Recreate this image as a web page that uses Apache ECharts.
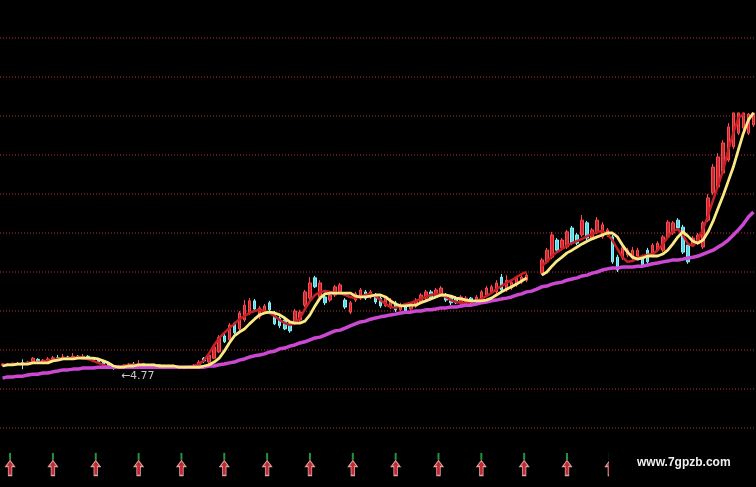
<!DOCTYPE html>
<html><head><meta charset="utf-8">
<script src="https://cdn.jsdelivr.net/npm/echarts@6/dist/echarts.min.js"></script>
<style>html,body{margin:0;padding:0;background:#000;}#c{width:756px;height:487px;}</style>
</head><body><div id="c"></div>
<script>
// ---- data (price units) ----
const opens = [
4.60,4.64,4.62,4.66,4.68,4.64,4.70,4.76,4.70,4.72,
4.76,4.80,4.77,4.82,4.79,4.84,4.80,4.84,4.79,4.74,
4.69,4.64,4.58,4.55,4.58,4.61,4.64,4.62,4.65,4.62,
4.60,4.62,4.59,4.58,4.60,4.57,4.56,4.55,4.58,4.62,
4.79,4.69,4.79,4.95,5.36,5.26,5.69,5.54,5.77,5.95,
6.26,5.85,5.97,6.21,5.95,5.82,5.77,5.69,5.69,5.77,
6.15,6.33,6.85,6.36,6.36,6.28,6.41,6.49,6.28,5.97,
6.28,6.33,6.49,6.36,6.41,6.33,6.13,6.10,6.21,6.03,
6.15,6.05,6.13,6.23,6.33,6.49,6.38,6.41,6.41,6.36,
6.33,6.21,6.23,6.33,6.23,6.33,6.41,6.49,6.49,6.87,
6.54,6.59,6.67,6.74,6.79,null,null,6.97,7.26,7.38,
7.82,7.62,7.64,8.13,7.95,7.95,8.26,7.87,8.03,7.90,
7.95,7.90,7.38,7.36,7.44,7.36,7.41,7.38,7.56,7.44,
7.56,7.56,7.90,8.00,8.33,8.15,7.69,7.69,7.74,7.64,
8.33,9.03,9.18,9.54,9.87,10.21,10.56,10.69,10.56,10.77];
const closes = [
4.64,4.61,4.66,4.64,4.66,4.69,4.79,4.72,4.74,4.77,
4.80,4.77,4.82,4.79,4.84,4.80,4.84,4.79,4.74,4.69,
4.64,4.59,4.55,4.58,4.61,4.64,4.62,4.65,4.62,4.60,
4.62,4.59,4.58,4.60,4.57,4.56,4.55,4.58,4.61,4.69,
4.72,4.87,5.08,5.33,5.21,5.64,5.44,5.95,6.15,6.26,
6.05,6.08,6.13,6.03,5.67,5.62,5.54,5.49,6.00,5.97,
6.49,6.72,6.62,6.72,6.21,6.41,6.62,6.67,6.10,6.21,
6.44,6.54,6.33,6.49,6.23,6.13,6.33,6.28,6.03,6.15,
6.00,6.18,6.28,6.41,6.49,6.33,6.54,6.59,6.28,6.21,
6.21,6.36,6.33,6.21,6.36,6.49,6.59,6.62,6.72,6.54,
6.79,6.74,6.85,6.87,6.92,null,null,7.31,7.56,7.95,
7.56,7.82,8.03,7.74,7.74,8.33,7.87,8.08,8.33,8.21,
8.08,7.26,7.05,7.62,7.56,7.56,7.56,7.18,7.26,7.69,
7.74,7.90,8.28,8.26,8.13,7.51,7.26,7.87,7.95,8.26,
8.90,9.69,9.95,10.31,10.72,11.08,11.08,11.08,11.05,11.08];
const lows = [
4.58,4.59,4.60,4.62,4.51,4.62,4.67,4.69,4.67,4.69,
4.72,4.74,4.74,4.77,4.77,4.77,4.79,4.74,4.69,4.64,
4.59,4.51,4.49,4.51,4.54,4.59,4.59,4.60,4.59,4.56,
4.57,4.56,4.51,4.55,4.54,4.51,4.52,4.53,4.55,4.56,
4.67,4.64,4.77,4.92,5.18,5.23,5.41,5.49,5.72,5.90,
6.00,5.79,5.92,6.00,5.64,5.56,5.51,5.44,5.64,5.72,
6.10,6.28,6.59,6.31,6.15,6.23,6.36,6.44,6.05,5.92,
6.23,6.28,6.28,6.31,6.18,6.08,6.10,6.05,5.97,6.00,
5.95,6.00,6.08,6.18,6.28,6.28,6.33,6.36,6.23,6.15,
6.18,6.15,6.18,6.15,6.18,6.28,6.36,6.44,6.44,6.49,
6.49,6.54,6.62,6.69,6.74,null,null,6.92,7.21,7.33,
7.51,7.56,7.59,7.69,7.69,7.90,7.82,7.82,7.97,7.85,
7.90,7.21,7.00,7.31,7.38,7.31,7.36,7.13,7.21,7.38,
7.51,7.51,7.85,7.95,8.08,7.46,7.21,7.64,7.69,7.59,
8.28,8.97,9.13,9.49,9.82,10.15,10.51,10.64,10.51,10.72];
const highs = [
4.66,4.66,4.68,4.69,4.76,4.72,4.82,4.79,4.77,4.82,
4.85,4.87,4.90,4.85,4.92,4.87,4.90,4.87,4.82,4.77,
4.72,4.67,4.61,4.62,4.64,4.67,4.69,4.74,4.67,4.64,
4.65,4.64,4.62,4.62,4.62,4.59,4.58,4.60,4.64,4.74,
4.82,4.92,5.13,5.38,5.41,5.69,5.72,6.00,6.28,6.33,
6.31,6.13,6.18,6.26,6.00,5.87,5.82,5.72,6.05,6.03,
6.54,6.87,6.90,6.79,6.41,6.46,6.67,6.72,6.33,6.26,
6.49,6.59,6.54,6.54,6.46,6.38,6.38,6.33,6.26,6.21,
6.18,6.23,6.33,6.46,6.54,6.54,6.59,6.64,6.46,6.41,
6.38,6.41,6.38,6.36,6.41,6.54,6.64,6.67,6.79,6.95,
6.92,6.79,6.90,6.92,6.97,null,null,7.36,7.62,8.03,
7.87,7.87,8.08,8.18,8.00,8.46,8.31,8.13,8.41,8.28,
8.13,7.95,7.44,7.67,7.62,7.64,7.62,7.44,7.62,7.74,
7.79,7.95,8.33,8.31,8.38,8.21,7.74,7.92,8.00,8.31,
9.00,9.77,10.05,10.38,10.82,11.08,11.08,11.08,11.08,11.08];
const maShort = [
4.62,4.62,4.64,4.64,4.64,4.67,4.67,4.69,4.69,4.72,
4.74,4.77,4.79,4.79,4.79,4.82,4.79,4.77,4.72,4.67,
4.62,4.56,4.54,4.56,4.59,4.62,4.62,4.62,4.62,4.59,
4.59,4.59,4.56,4.56,4.56,4.56,4.54,4.56,4.59,4.64,
4.74,4.92,5.13,5.31,5.44,5.56,5.67,5.79,5.87,5.95,
6.00,6.03,6.00,5.95,5.87,5.77,5.69,5.64,5.69,5.82,
6.05,6.26,6.41,6.49,6.51,6.49,6.46,6.46,6.41,6.36,
6.33,6.36,6.41,6.44,6.38,6.28,6.18,6.10,6.08,6.13,
6.18,6.21,6.26,6.31,6.36,6.41,6.44,6.41,6.36,6.28,
6.23,6.21,6.21,6.23,6.26,6.31,6.38,6.46,6.56,6.64,
6.72,6.79,6.87,6.95,7.00,null,null,7.15,7.26,7.41,
7.51,7.59,7.67,7.74,7.79,7.85,7.92,7.97,8.03,8.05,
7.97,7.82,7.59,7.38,7.26,7.28,7.36,7.41,7.44,7.46,
7.56,7.72,7.90,8.05,8.10,7.95,7.72,7.67,7.82,8.10,
8.46,8.85,9.23,9.62,10.13,10.56,10.95,11.05,null,null];
const maMid = [
4.59,4.62,4.62,4.64,4.64,4.64,4.67,4.67,4.67,4.67,
4.72,4.74,4.77,4.77,4.77,4.79,4.79,4.79,4.79,4.77,
4.72,4.67,4.59,4.56,4.56,4.59,4.59,4.62,4.62,4.62,
4.62,4.59,4.59,4.59,4.59,4.56,4.56,4.56,4.56,4.56,
4.59,4.62,4.69,4.79,4.97,5.18,5.36,5.46,5.54,5.67,
5.79,5.90,5.95,5.97,5.95,5.90,5.82,5.72,5.69,5.69,
5.74,5.90,6.13,6.33,6.44,6.46,6.46,6.46,6.46,6.46,
6.38,6.36,6.36,6.38,6.41,6.41,6.36,6.26,6.18,6.13,
6.13,6.15,6.15,6.21,6.26,6.31,6.36,6.41,6.41,6.38,
6.33,6.31,6.28,6.26,6.26,6.26,6.28,6.33,6.41,6.49,
6.56,6.62,6.69,6.77,6.85,null,null,6.92,7.00,7.15,
7.28,7.38,7.49,7.56,7.64,7.72,7.79,7.85,7.90,7.95,
8.00,8.00,7.90,7.69,7.51,7.38,7.33,7.36,7.41,7.41,
7.41,7.46,7.56,7.72,7.90,8.03,7.92,7.79,7.74,7.82,
8.03,8.31,8.64,8.97,9.33,9.69,10.13,10.56,10.90,11.08];
const maLong = [
4.28,4.31,4.31,4.33,4.33,4.36,4.38,4.38,4.41,4.41,
4.44,4.46,4.49,4.49,4.51,4.51,4.54,4.54,4.54,4.56,
4.56,4.56,4.56,4.56,4.56,4.56,4.56,4.56,4.56,4.56,
4.56,4.56,4.56,4.56,4.56,4.56,4.56,4.56,4.56,4.56,
4.56,4.59,4.59,4.62,4.64,4.67,4.69,4.74,4.77,4.82,
4.85,4.87,4.90,4.95,4.97,5.03,5.05,5.10,5.13,5.18,
5.21,5.26,5.31,5.33,5.38,5.44,5.49,5.51,5.56,5.62,
5.67,5.72,5.74,5.79,5.82,5.85,5.87,5.90,5.92,5.95,
5.97,5.97,6.00,6.00,6.03,6.03,6.05,6.08,6.08,6.10,
6.10,6.13,6.15,6.15,6.18,6.21,6.23,6.26,6.28,6.31,
6.33,6.36,6.41,6.44,6.49,6.51,6.56,6.62,6.64,6.69,
6.72,6.74,6.79,6.82,6.85,6.90,6.92,6.97,7.00,7.05,
7.08,7.10,7.10,7.13,7.13,7.13,7.15,7.15,7.18,7.21,
7.23,7.26,7.28,7.31,7.31,7.33,7.36,7.38,7.41,7.46,
7.51,7.56,7.64,7.72,7.82,7.95,8.08,8.23,8.41,8.54];
// buy-signal positions (in bar units) for the arrow row
const signalPos = [2, 10.5, 19, 27.5, 36, 44.5, 53, 61.5, 70, 78.5, 87, 95.5, 104, 112.5, 121];
const lowIndex = 22;
const lowLabel = '←4.77';
const watermark = 'www.7gpzb.com';
const yTicks = {min: 3, max: 13, interval: 1};

const days = opens.map((_, i) => String(i + 1));
const ohlc = opens.map((o, i) => o == null ? '-' : [o, closes[i], lows[i], highs[i]]);

const chart = echarts.init(document.getElementById('c'), null, {renderer: 'canvas'});
chart.setOption({
  backgroundColor: '#000',
  animation: false,
  grid: [
    {left: 0, right: 0, top: 38, bottom: 59},
    {left: 0, right: 0, top: 440, height: 40}
  ],
  xAxis: [
    {type: 'category', data: days, gridIndex: 0, boundaryGap: true, show: false},
    {type: 'value', gridIndex: 1, min: 0, max: opens.length, show: false}
  ],
  yAxis: [
    {type: 'value', gridIndex: 0, min: yTicks.min, max: yTicks.max, interval: yTicks.interval,
     axisLine: {show: false}, axisTick: {show: false}, axisLabel: {show: false},
     splitLine: {show: true, lineStyle: {color: '#7a2222', type: [1, 2], width: 1.5}}},
    {type: 'value', gridIndex: 1, min: 0, max: 10, show: false}
  ],
  series: [
    {type: 'candlestick', xAxisIndex: 0, yAxisIndex: 0, data: ohlc, barWidth: 3,
     itemStyle: {color: '#c8282e', color0: '#58d8e6', borderColor: '#ff4a50', borderColor0: '#8ef0f8', borderWidth: 1},
     markPoint: {
       symbol: 'circle', symbolSize: 1, itemStyle: {color: 'rgba(0,0,0,0)'},
       label: {show: true, position: 'right', formatter: lowLabel, color: '#c8c8c8', fontSize: 11,
               fontFamily: 'DejaVu Sans', offset: [2, 6]},
       data: [{coord: [lowIndex, lows[lowIndex]]}]
     }},
    {type: 'line', data: maShort, showSymbol: false, connectNulls: false,
     lineStyle: {color: '#c42226', width: 2.5}},
    {type: 'line', data: maLong, showSymbol: false,
     lineStyle: {color: '#cc48d2', width: 3.5}},
    {type: 'line', data: maMid, showSymbol: false, connectNulls: false,
     lineStyle: {color: '#fbe985', width: 2.8}},
    {type: 'scatter', xAxisIndex: 1, yAxisIndex: 1, silent: true,
     data: signalPos.map(p => [p, 5.9]), symbol: 'rect', symbolSize: [2, 7],
     itemStyle: {color: '#2fb848'}},
    {type: 'scatter', xAxisIndex: 1, yAxisIndex: 1, silent: true,
     data: signalPos.map(p => [p, 3]),
     symbol: 'path://M5,0 L10,6 L7,6 L7,15 L3,15 L3,6 L0,6 Z', symbolSize: [9, 15],
     itemStyle: {color: '#f0343e', borderColor: '#ffc8c8', borderWidth: 1}}
  ],
  graphic: [
    {type: 'rect', left: 609, top: 444, shape: {width: 147, height: 43}, style: {fill: '#000'}, z: 100},
    {type: 'text', left: 637, top: 457, z: 101,
     style: {text: watermark, fill: '#f0f0f0', font: 'bold 12px "Liberation Sans", Arial, sans-serif'}}
  ]
});
</script>
</body></html>
